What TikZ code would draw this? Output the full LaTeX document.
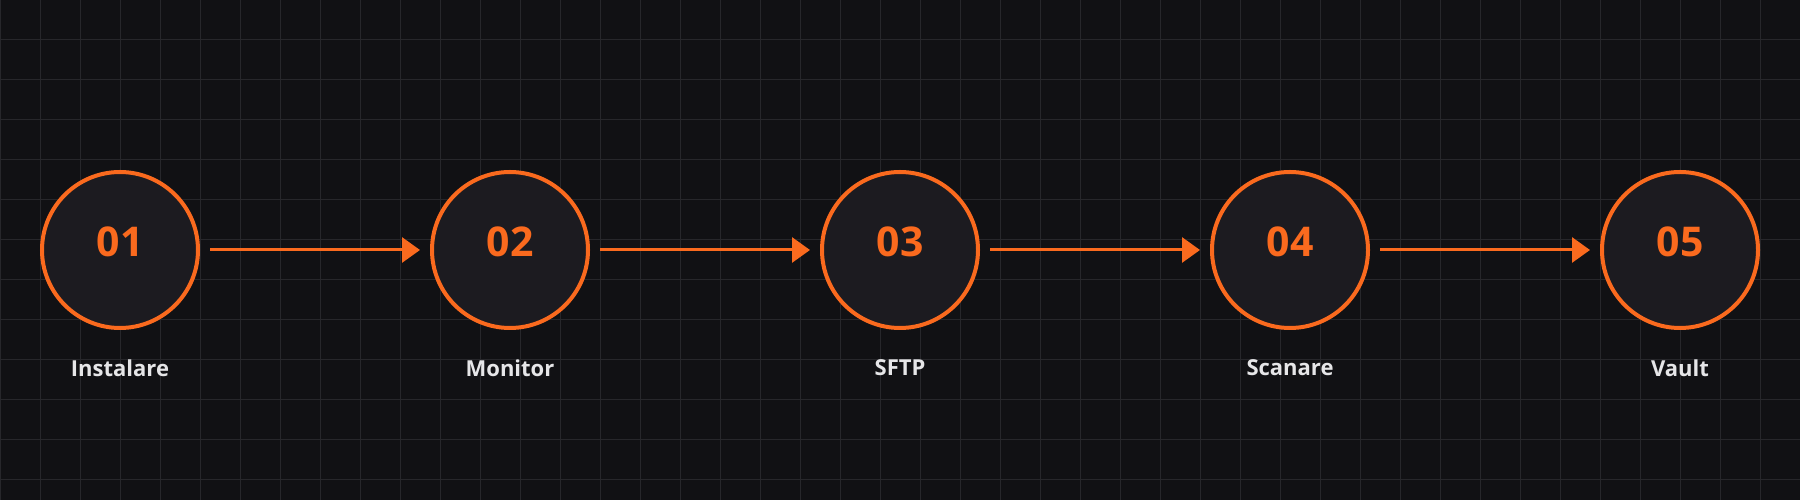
\documentclass[tikz,border=0pt]{standalone}
\usepackage{fontspec}
\setmainfont{Open Sans}
\usetikzlibrary{arrows.meta}
\definecolor{bgc}{HTML}{111114}
\definecolor{gridc}{HTML}{27272B}
\definecolor{fillc}{HTML}{1C1B20}
\definecolor{orng}{HTML}{FA6A1E}
\definecolor{labc}{HTML}{E6E6E8}
\tikzset{
  stepcircle/.style={circle, draw=orng, fill=fillc, line width=4pt, minimum size=156pt, inner sep=0pt},
  numtxt/.style={text=orng, font=\bfseries\fontsize{41}{41}\selectfont, inner sep=0pt},
  labtxt/.style={text=labc, font=\bfseries\fontsize{22}{22}\selectfont, inner sep=0pt},
  flowarrow/.style={draw=orng, line width=3pt, -{Triangle[length=18pt,width=25pt]}, shorten <=10pt, shorten >=10pt},
  gridline/.style={draw=gridc, line width=1pt}
}
\begin{document}
\begin{tikzpicture}[x=1pt,y=1pt]
\useasboundingbox (0,0) rectangle (1800,500);
\fill[bgc] (0,0) rectangle (1800,500);
\foreach \i in {0,40,...,1800} \draw[gridline] (\i,0) -- (\i,500);
\foreach \j in {20,60,...,500} \draw[gridline] (0,\j) -- (1800,\j);
\foreach \n/\x/\t in {1/120/Instalare,2/510/Monitor,3/900/SFTP,4/1290/Scanare,5/1680/Vault}{
  \node[stepcircle] (c\n) at (\x,250) {};
  \node[numtxt] (n\n) at ([yshift=8pt]c\n.center) {0\n};
  \node[labtxt] (l\n) at (\x,132) {\t};
}
\draw[flowarrow] (c1) -- (c2);
\draw[flowarrow] (c2) -- (c3);
\draw[flowarrow] (c3) -- (c4);
\draw[flowarrow] (c4) -- (c5);
\end{tikzpicture}
\end{document}
